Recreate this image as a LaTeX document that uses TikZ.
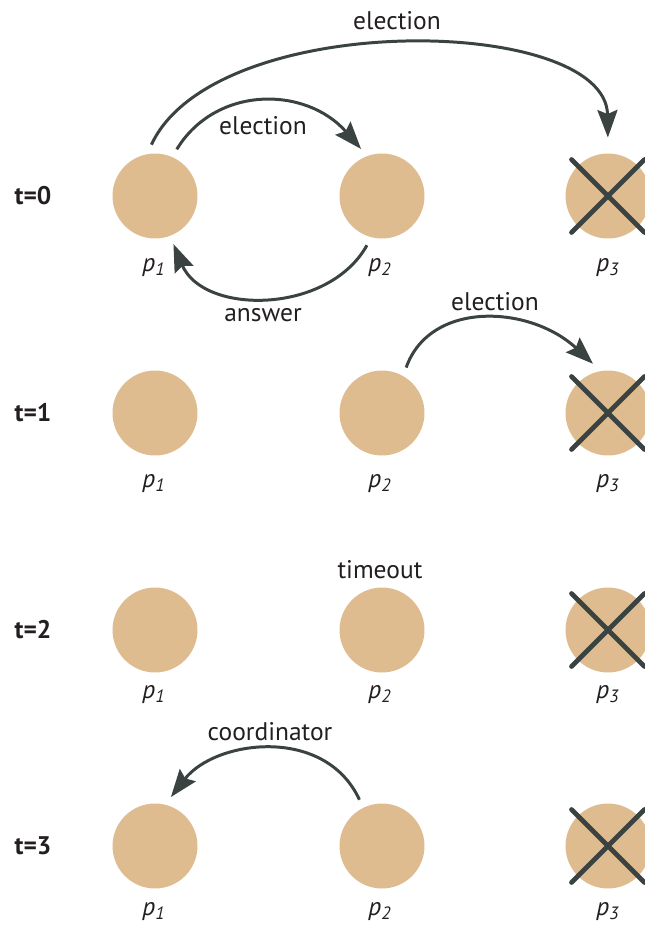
\documentclass[tikz,border=0pt]{standalone}
\usepackage{fontspec}
\setmainfont{PT Sans}
\usetikzlibrary{arrows.meta}
\definecolor{sand}{RGB}{222,188,144}
\definecolor{slate}{RGB}{58,67,66}
\definecolor{ink}{RGB}{35,31,32}
\tikzset{>=Stealth}
\tikzset{
  proc/.style={circle,fill=sand,minimum size=1.7cm,inner sep=0pt,outer sep=0.18cm},
  crossout/.style={slate,line width=2.8pt,line cap=round},
  msg/.style={-{Stealth[length=0.55cm,width=0.4cm,inset=0.08cm]},slate,line width=1.7pt},
  lbl/.style={ink,font=\fontsize{14.5}{17}\selectfont},
  tlbl/.style={ink,font=\fontsize{14.5}{17}\selectfont\bfseries},
  plbl/.style={ink,font=\fontsize{14.5}{17}\selectfont\itshape}
}

\begin{document}
\begin{tikzpicture}[x=0.02cm,y=-0.02cm]
  \useasboundingbox (0,0) rectangle (645,927);

  % Processes, one row per time step
  \foreach \row/\y/\ly in {0/196/268,1/413/484,2/630/695,3/846/912}{
    \node[tlbl] (t\row) at (33,\y) {t=\row};
    \node[proc] (r\row p1) at (155,\y) {};
    \node[proc] (r\row p2) at (382,\y) {};
    \node[proc] (r\row p3) at (608,\y) {};
    \node[plbl] (l\row p1) at (154,\ly) {p\textsubscript{1}};
    \node[plbl] (l\row p2) at (380,\ly) {p\textsubscript{2}};
    \node[plbl] (l\row p3) at (608,\ly) {p\textsubscript{3}};
    % p3 has crashed
    \draw[crossout] (r\row p3.45) -- (r\row p3.225)
                    (r\row p3.135) -- (r\row p3.315);
  }

  % t=0: p1 starts an election
  \draw[msg,shorten >=0.14cm] (r0p1.94) .. controls (215,8) and (606,15) .. (r0p3.90);
  \node[lbl] (e0a) at (397,21) {election};
  \draw[msg] (r0p1.65) .. controls (216,85) and (306,86) .. (r0p2.114);
  \node[lbl] (e0b) at (263,126) {election};
  \draw[msg] (r0p2.253) .. controls (328,315) and (203,315) .. (r0p1.291);
  \node[lbl] (a0) at (263,315) {answer};

  % t=1: p2 starts its own election
  \draw[msg] (r1p2.62) .. controls (430,300) and (530,305) .. (r1p3.107);
  \node[lbl] (e1) at (495,302) {election};

  % t=2
  \node[lbl] (to2) at (380,570) {timeout};

  % t=3: p2 is coordinator
  \draw[msg] (r3p2.116) .. controls (325,725) and (215,740) .. (r3p1.72);
  \node[lbl] (c3) at (270,732) {coordinator};

\end{tikzpicture}
\end{document}
